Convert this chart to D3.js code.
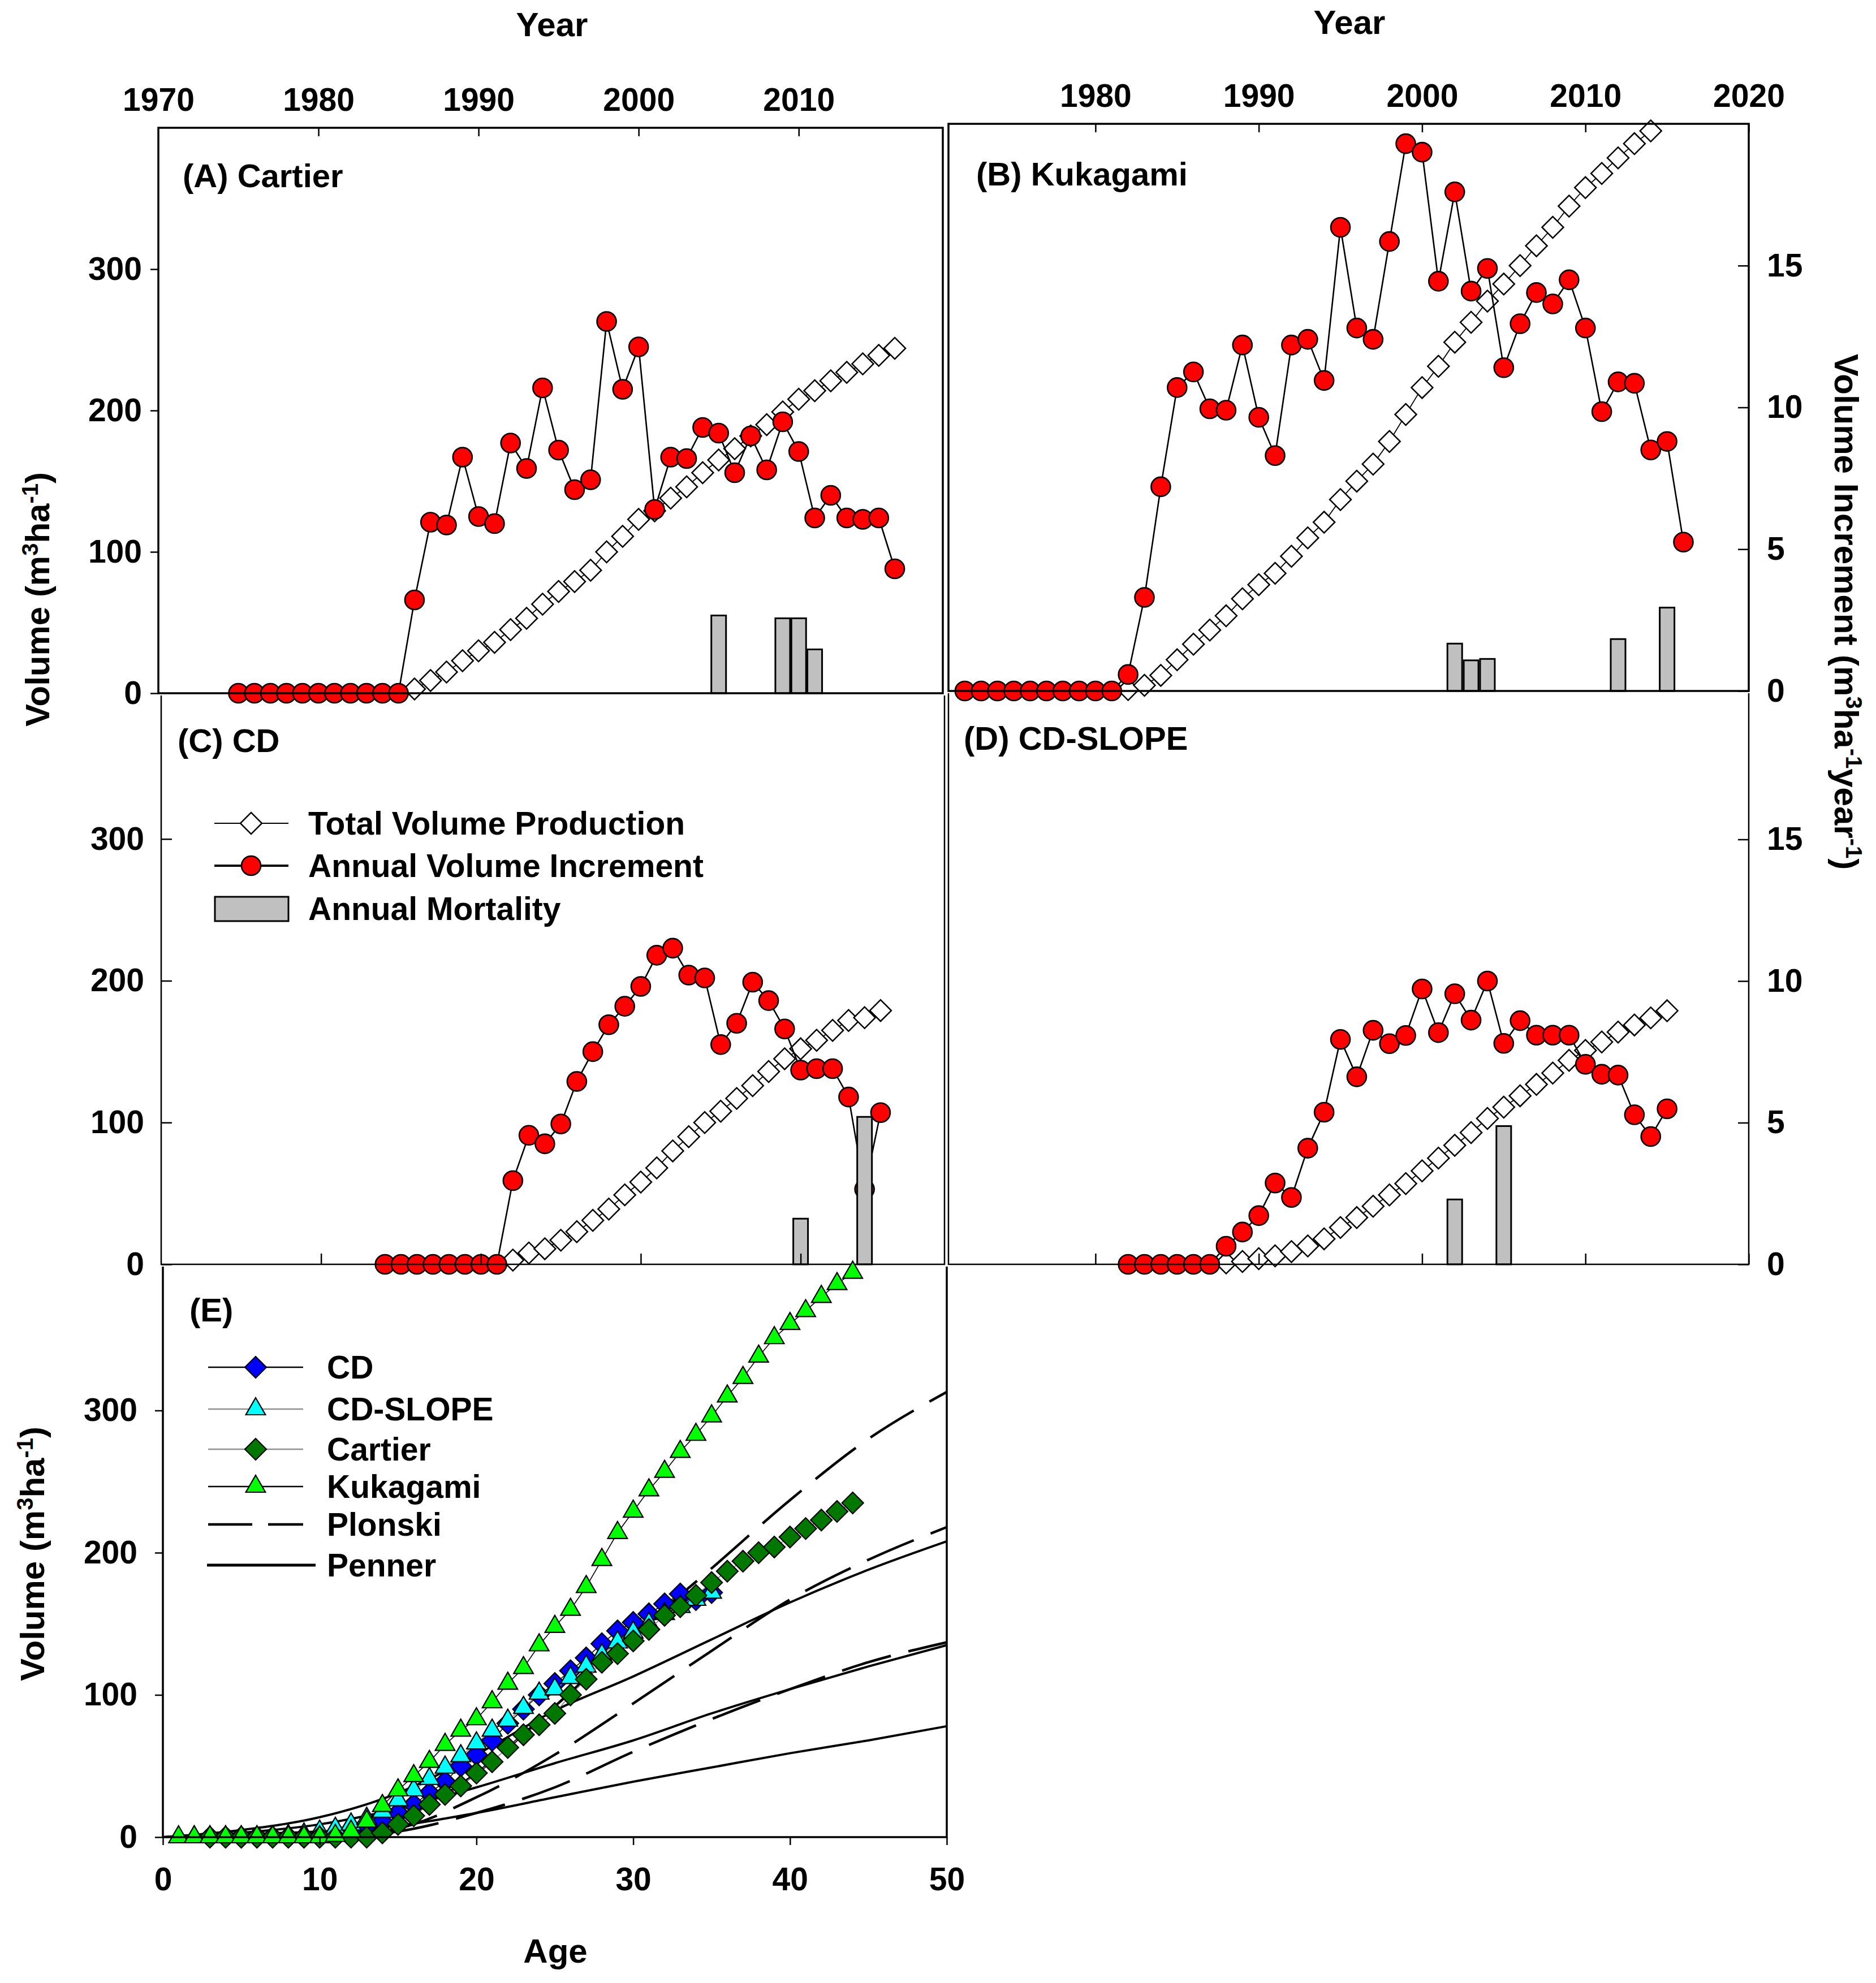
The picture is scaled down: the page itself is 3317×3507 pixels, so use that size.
<!DOCTYPE html>
<html>
<head>
<meta charset="utf-8">
<script src="https://cdn.jsdelivr.net/npm/d3@7/dist/d3.min.js"></script>
<style>
  body { margin: 0; background: #fff; }
  svg text { font-family: "Liberation Sans", Arial, sans-serif; font-weight: bold; }
</style>
</head>
<body>
<div id="chart"></div>
<script>
// ---- data ----
// annual volume increment (m3 ha-1 year-1), one value per year from the start year
const cartierIncStart = 1975;
const cartierInc = [0, 0, 0, 0, 0, 0, 0, 0, 0, 0, 0,
  3.3, 6.05, 5.95, 8.35, 6.25, 6.0, 8.85, 7.95, 10.8, 8.6, 7.2, 7.55, 13.15, 10.75, 12.25,
  6.5, 8.35, 8.3, 9.4, 9.2, 7.8, 9.1, 7.9, 9.6, 8.55, 6.2, 7.0, 6.2, 6.15, 6.2, 4.4];
// total volume production (m3 ha-1)
const cartierTotalStart = 1986;
const cartierTotal = [3, 9, 15, 23, 30, 36, 45, 53, 63, 72, 79, 87, 100, 111, 123, 129, 138,
  146, 156, 165, 173, 182, 190, 199, 208, 214, 221, 227, 233, 239, 244];
const cartierMortYears = [2005, 2009, 2010, 2011];
const cartierMort = [2.75, 2.65, 2.65, 1.55];

const kukagamiIncStart = 1972;
const kukagamiInc = [0, 0, 0, 0, 0, 0, 0, 0, 0, 0,
  0.58, 3.3, 7.2, 10.7, 11.25, 9.95, 9.9, 12.2, 9.65, 8.3, 12.2, 12.4, 10.95, 16.35, 12.8,
  12.4, 15.85, 19.3, 19.0, 14.45, 17.6, 14.1, 14.9, 11.4, 12.95, 14.05, 13.65, 14.5, 12.8,
  9.85, 10.9, 10.85, 8.5, 8.8, 5.25];
const kukagamiTotalStart = 1982;
const kukagamiTotal = [1, 4, 11, 22, 33, 43, 53, 65, 75, 83, 95, 108, 119, 135, 148, 160, 176,
  195, 214, 229, 246, 260, 275, 287, 300, 314, 327, 342, 355, 365, 376, 386, 395];
const kukagamiMortYears = [2002, 2003, 2004, 2012, 2015];
const kukagamiMort = [1.67, 1.08, 1.13, 1.83, 2.94];

const cdIncStart = 1984;
const cdInc = [0, 0, 0, 0, 0, 0, 0, 0,
  2.95, 4.55, 4.25, 4.95, 6.45, 7.5, 8.45, 9.1, 9.8, 10.9, 11.15, 10.2, 10.1, 7.75, 8.5,
  9.95, 9.3, 8.3, 6.85, 6.9, 6.9, 5.9, 2.65, 5.35];
const cdTotalStart = 1992;
const cdTotal = [3, 8, 11, 17, 23, 31, 39, 49, 58, 68, 80, 90, 100, 108, 117, 126, 136, 145,
  152, 158, 165, 172, 174, 179];
const cdMortYears = [2010, 2014];
const cdMort = [1.61, 5.2];

const slopeIncStart = 1982;
const slopeInc = [0, 0, 0, 0, 0, 0,
  0.64, 1.14, 1.72, 2.87, 2.36, 4.1, 5.37, 7.94, 6.62, 8.26, 7.79, 8.08, 9.72, 8.18, 9.55,
  8.62, 10.0, 7.8, 8.6, 8.09, 8.09, 8.09, 7.06, 6.71, 6.68, 5.28, 4.51, 5.49];
const slopeTotalStart = 1988;
const slopeTotal = [1, 2, 4, 6, 9, 13, 18, 26, 33, 41, 49, 57, 66, 75, 84, 93, 103, 111, 119,
  127, 135, 144, 151, 157, 164, 169, 174, 179];
const slopeMortYears = [2002, 2005];
const slopeMort = [2.29, 4.88];

// panel E: standing volume by stand age (m3 ha-1)
const cdAgeStart = 4;
const cdByAge = [0, 0, 0, 0, 0, 0, 0, 0,
  3, 8, 11, 17, 23, 31, 39, 50, 58, 68, 80, 90, 100, 108, 117, 126, 136, 145, 151, 157, 164,
  171, 167, 172];
const slopeAgeStart = 2;
const slopeByAge = [0, 0, 0, 0, 0, 0,
  1, 2, 4, 6, 9, 13, 18, 26, 33, 41, 49, 57, 66, 75, 82, 91, 101, 104, 112, 120, 128, 137,
  144, 150, 157, 162, 167, 172];
const cartierAgeStart = 3;
const cartierByAge = [0, 0, 0, 0, 0, 0, 0, 0, 0, 0, 0,
  3, 9, 15, 23, 30, 36, 45, 53, 63, 72, 79, 87, 100, 111, 123, 129, 138, 146, 156, 162, 170,
  179, 187, 194, 200, 204, 211, 217, 223, 229, 235];
const kukagamiAgeStart = 1;
const kukagamiByAge = [0, 0, 0, 0, 0, 0, 0, 0, 0, 0,
  1, 4, 11, 22, 33, 43, 53, 65, 75, 83, 95, 108, 119, 135, 148, 160, 176, 195, 214, 229, 244,
  257, 271, 283, 296, 310, 323, 338, 351, 361, 370, 380, 389, 397];

// yield-table curves
const plonskiAges = [10, 15, 20, 25, 30, 35, 40, 45, 50];
const plonskiI = [0, 12, 45, 92, 142, 189, 237, 280, 313];
const plonskiII = [0, 6, 28, 58, 94, 131, 167, 195, 218];
const plonskiIII = [0, 4, 17, 35, 60, 83, 104, 123, 137];
const pennerAges = [0, 5, 10, 15, 20, 25, 30, 35, 40, 45, 50];
const pennerI = [0, 5, 14, 31, 58, 89, 113, 139, 165, 188, 208];
const pennerII = [0, 3, 9, 20, 35, 52, 68, 87, 104, 120, 135];
const pennerIII = [0, 2, 4, 8, 17, 28, 39, 49, 59, 68, 78];

const leftTicks = [0, 100, 200, 300];
const rightTicks = [0, 5, 10, 15];
const ageTicks = [0, 10, 20, 30, 40, 50];

// ---- drawing ----
const W = 3317, H = 3507;
const FS = 57;
const svg = d3.select('#chart').append('svg')
  .attr('width', W).attr('height', H)
  .style('background', '#fff');

const toPoints = (start, values) => values.map((v, i) => ({ x: start + i, v: v }));
const diamondPath = d3.symbol(d3.symbolSquare, 720)();
const trianglePath = d3.symbol(d3.symbolTriangle, 520)();

function styleAxis(g, width) {
  g.select('.domain').remove();
  g.selectAll('.tick line').attr('stroke', '#000').attr('stroke-width', width || 2.5);
  g.selectAll('.tick text').attr('fill', '#000');
  g.attr('font-size', FS).attr('font-family', '"Liberation Sans", Arial, sans-serif');
}

function drawYearPanel(p) {
  const x = d3.scaleLinear().domain(p.years).range([p.left, p.right]);
  const yR = d3.scaleLinear().domain([0, 20]).range([p.bottom, p.top]);
  const yL = d3.scaleLinear().domain([0, 400]).range([p.bottom, p.top]);
  const g = svg.append('g');

  // total volume production
  const total = toPoints(p.totalStart, p.total);
  g.append('path').datum(total)
    .attr('d', d3.line().x(d => x(d.x)).y(d => yL(d.v)))
    .attr('fill', 'none').attr('stroke', '#000').attr('stroke-width', 1.8);
  g.selectAll('.tot').data(total).join('path')
    .attr('d', diamondPath)
    .attr('transform', d => `translate(${x(d.x)},${yL(d.v)}) rotate(45)`)
    .attr('fill', '#fff').attr('stroke', '#000').attr('stroke-width', 2.5);

  // annual increment
  const inc = toPoints(p.incStart, p.inc);
  g.append('path').datum(inc)
    .attr('d', d3.line().x(d => x(d.x)).y(d => yR(d.v)))
    .attr('fill', 'none').attr('stroke', '#000').attr('stroke-width', 2.6);
  g.selectAll('.inc').data(inc).join('circle')
    .attr('cx', d => x(d.x)).attr('cy', d => yR(d.v)).attr('r', 17)
    .attr('fill', '#ff0000').attr('stroke', '#000').attr('stroke-width', 2.6);

  // annual mortality bars
  const bw = 26;
  g.selectAll('.bar').data(p.mortYears.map((yr, i) => ({ x: yr, v: p.mort[i] }))).join('rect')
    .attr('x', d => x(d.x) - bw / 2).attr('y', d => yR(d.v))
    .attr('width', bw).attr('height', d => yR(0) - yR(d.v))
    .attr('fill', '#c0c0c0').attr('stroke', '#000').attr('stroke-width', 3);

  // frame
  const fw = p.frameWidth;
  if (p.box) {
    svg.append('rect').attr('x', p.left).attr('y', p.top)
      .attr('width', p.right - p.left).attr('height', p.bottom - p.top)
      .attr('fill', 'none').attr('stroke', '#000').attr('stroke-width', fw);
  } else {
    svg.append('path')
      .attr('d', `M${p.left},${p.frameTop}V${p.bottom}H${p.right}V${p.frameTop}`)
      .attr('fill', 'none').attr('stroke', '#000').attr('stroke-width', fw);
  }

  const decades = d3.range(Math.ceil(p.years[0] / 10) * 10, p.years[1] + 1, 10)
    .filter(v => v > p.years[0]);
  if (p.topAxis) {
    svg.append('g').attr('transform', `translate(0,${p.top})`)
      .call(d3.axisTop(x).tickValues(p.topLabels).tickFormat(d3.format('d'))
        .tickSizeInner(-15).tickSizeOuter(0).tickPadding(30))
      .call(s => styleAxis(s))
      .call(s => s.selectAll('.tick line').filter(d => !decades.includes(d)).remove());
  }
  if (p.bottomTicks) {
    svg.append('g').attr('transform', `translate(0,${p.bottom})`)
      .call(d3.axisBottom(x).tickValues(decades).tickFormat('')
        .tickSizeInner(-19).tickSizeOuter(0))
      .call(s => styleAxis(s));
  }
  if (p.leftAxis) {
    const inside = p.leftAxis === 'in';
    svg.append('g').attr('transform', `translate(${p.left},0)`)
      .call(d3.axisLeft(yL).tickValues(leftTicks)
        .tickSizeInner(inside ? -19 : 14).tickSizeOuter(0).tickPadding(inside ? 30 : 15))
      .call(s => styleAxis(s));
  }
  if (p.rightAxis) {
    svg.append('g').attr('transform', `translate(${p.right},0)`)
      .call(d3.axisRight(yR).tickValues(rightTicks)
        .tickSizeInner(-19).tickSizeOuter(0).tickPadding(32))
      .call(s => styleAxis(s));
  }

  svg.append('text').attr('x', p.labelX).attr('y', p.labelY)
    .attr('font-size', 58).text(p.label);
}

drawYearPanel({
  label: '(A) Cartier', labelX: 323, labelY: 331,
  years: [1970, 2019], left: 280, right: 1667, top: 226, bottom: 1226,
  box: true, frameWidth: 3.5, topAxis: true, topLabels: [1970, 1980, 1990, 2000, 2010],
  leftAxis: 'out',
  incStart: cartierIncStart, inc: cartierInc,
  totalStart: cartierTotalStart, total: cartierTotal,
  mortYears: cartierMortYears, mort: cartierMort
});
drawYearPanel({
  label: '(B) Kukagami', labelX: 1726, labelY: 328,
  years: [1971, 2020], left: 1677, right: 3092, top: 219, bottom: 1222,
  box: true, frameWidth: 3.5, topAxis: true, topLabels: [1980, 1990, 2000, 2010, 2020],
  rightAxis: true,
  incStart: kukagamiIncStart, inc: kukagamiInc,
  totalStart: kukagamiTotalStart, total: kukagamiTotal,
  mortYears: kukagamiMortYears, mort: kukagamiMort
});
drawYearPanel({
  label: '(C) CD', labelX: 314, labelY: 1330,
  years: [1970, 2019], left: 285, right: 1670, top: 1233, bottom: 2236, frameTop: 1230,
  frameWidth: 2.5, bottomTicks: true, leftAxis: 'in',
  incStart: cdIncStart, inc: cdInc,
  totalStart: cdTotalStart, total: cdTotal,
  mortYears: cdMortYears, mort: cdMort
});
drawYearPanel({
  label: '(D) CD-SLOPE', labelX: 1704, labelY: 1326,
  years: [1971, 2020], left: 1677, right: 3092, top: 1234, bottom: 2236, frameTop: 1226,
  frameWidth: 2.5, bottomTicks: true, rightAxis: true,
  incStart: slopeIncStart, inc: slopeInc,
  totalStart: slopeTotalStart, total: slopeTotal,
  mortYears: slopeMortYears, mort: slopeMort
});

// ---- panel E ----
const ex = d3.scaleLinear().domain([0, 50]).range([288, 1674]);
const ey = d3.scaleLinear().domain([0, 400]).range([3249, 2243]);
const eg = svg.append('g');

const curve = (ages, vals) => d3.line().curve(d3.curveMonotoneX)
  .x((d, i) => ex(ages[i])).y(d => ey(d))(vals);
[plonskiI, plonskiII, plonskiIII].forEach(vals => {
  eg.append('path').attr('d', curve(plonskiAges, vals))
    .attr('fill', 'none').attr('stroke', '#000').attr('stroke-width', 4.5)
    .attr('stroke-dasharray', '90,32');
});
[pennerI, pennerII, pennerIII].forEach(vals => {
  eg.append('path').attr('d', curve(pennerAges, vals))
    .attr('fill', 'none').attr('stroke', '#000').attr('stroke-width', 4);
});

const eSeries = [
  { start: cdAgeStart, vals: cdByAge, fill: '#0000ff', line: '#000', shape: 'diamond' },
  { start: slopeAgeStart, vals: slopeByAge, fill: '#00ffff', line: '#808080', shape: 'triangle' },
  { start: cartierAgeStart, vals: cartierByAge, fill: '#007800', line: '#808080', shape: 'diamond' },
  { start: kukagamiAgeStart, vals: kukagamiByAge, fill: '#00ff00', line: '#000', shape: 'triangle' }
];
eSeries.forEach(s => {
  const pts = toPoints(s.start, s.vals);
  eg.append('path').datum(pts)
    .attr('d', d3.line().x(d => ex(d.x)).y(d => ey(d.v)))
    .attr('fill', 'none').attr('stroke', s.line).attr('stroke-width', 1.6);
  eg.selectAll(null).data(pts).join('path')
    .attr('d', s.shape === 'diamond' ? diamondPath : trianglePath)
    .attr('transform', d => `translate(${ex(d.x)},${ey(d.v)})` + (s.shape === 'diamond' ? ' rotate(45)' : ''))
    .attr('fill', s.fill).attr('stroke', '#000').attr('stroke-width', 2.2);
});

svg.append('path').attr('d', `M288,2240V3249H1674V2240`)
  .attr('fill', 'none').attr('stroke', '#000').attr('stroke-width', 3.5);
svg.append('g').attr('transform', 'translate(288,0)')
  .call(d3.axisLeft(ey).tickValues(leftTicks).tickSizeInner(14).tickSizeOuter(0).tickPadding(31))
  .call(s => styleAxis(s));
svg.append('g').attr('transform', 'translate(0,3249)')
  .call(d3.axisBottom(ex).tickValues(ageTicks).tickSizeInner(14).tickSizeOuter(0).tickPadding(40))
  .call(s => styleAxis(s));
svg.append('text').attr('x', 335).attr('y', 2337).attr('font-size', 58).text('(E)');

// ---- legends ----
const lg = svg.append('g').attr('font-size', FS);
const cLegend = [
  { y: 1456, label: 'Total Volume Production' },
  { y: 1531, label: 'Annual Volume Increment' },
  { y: 1607, label: 'Annual Mortality' }
];
lg.append('line').attr('x1', 379).attr('x2', 510).attr('y1', cLegend[0].y).attr('y2', cLegend[0].y)
  .attr('stroke', '#000').attr('stroke-width', 1.8);
lg.append('path').attr('d', diamondPath)
  .attr('transform', `translate(444,${cLegend[0].y}) rotate(45)`)
  .attr('fill', '#fff').attr('stroke', '#000').attr('stroke-width', 2.5);
lg.append('line').attr('x1', 379).attr('x2', 510).attr('y1', cLegend[1].y).attr('y2', cLegend[1].y)
  .attr('stroke', '#000').attr('stroke-width', 4);
lg.append('circle').attr('cx', 444).attr('cy', cLegend[1].y).attr('r', 17)
  .attr('fill', '#ff0000').attr('stroke', '#000').attr('stroke-width', 2.6);
lg.append('rect').attr('x', 380).attr('y', cLegend[2].y - 21).attr('width', 130).attr('height', 43)
  .attr('fill', '#c0c0c0').attr('stroke', '#000').attr('stroke-width', 3);
cLegend.forEach(d => lg.append('text').attr('x', 545).attr('y', d.y + 20).text(d.label));

const eLegend = [
  { y: 2418, label: 'CD', s: eSeries[0] },
  { y: 2492, label: 'CD-SLOPE', s: eSeries[1] },
  { y: 2563, label: 'Cartier', s: eSeries[2] },
  { y: 2629, label: 'Kukagami', s: eSeries[3] },
  { y: 2696, label: 'Plonski', dash: true },
  { y: 2768, label: 'Penner', solid: true }
];
eLegend.forEach(d => {
  if (d.s) {
    lg.append('line').attr('x1', 368).attr('x2', 536).attr('y1', d.y).attr('y2', d.y)
      .attr('stroke', d.s.line === '#000' ? '#000' : '#909090').attr('stroke-width', 2.5);
    lg.append('path').attr('d', d.s.shape === 'diamond' ? diamondPath : trianglePath)
      .attr('transform', `translate(452,${d.y})` + (d.s.shape === 'diamond' ? ' rotate(45)' : ''))
      .attr('fill', d.s.fill).attr('stroke', '#000').attr('stroke-width', 2.2);
  } else if (d.dash) {
    lg.append('line').attr('x1', 368).attr('x2', 536).attr('y1', d.y).attr('y2', d.y)
      .attr('stroke', '#000').attr('stroke-width', 4.5).attr('stroke-dasharray', '78,28');
  } else {
    lg.append('line').attr('x1', 366).attr('x2', 558).attr('y1', d.y).attr('y2', d.y)
      .attr('stroke', '#000').attr('stroke-width', 5);
  }
  lg.append('text').attr('x', 578).attr('y', d.y + 20).text(d.label);
});

// ---- axis titles ----
function volumeTitle(g, parts) {
  parts.forEach(p => {
    const t = g.append('tspan').text(p.t);
    if (p.sup) t.attr('font-size', 40).attr('dy', -20);
    if (p.down) t.attr('dy', 20);
  });
}
const t1 = svg.append('text').attr('font-size', 60).attr('text-anchor', 'middle')
  .attr('transform', 'translate(87,1060) rotate(-90)');
volumeTitle(t1, [{ t: 'Volume (m' }, { t: '3', sup: true }, { t: 'ha', down: true },
  { t: '-1', sup: true }, { t: ')', down: true }]);
const t2 = svg.append('text').attr('font-size', 60).attr('text-anchor', 'middle')
  .attr('transform', 'translate(78,2748) rotate(-90)');
volumeTitle(t2, [{ t: 'Volume (m' }, { t: '3', sup: true }, { t: 'ha', down: true },
  { t: '-1', sup: true }, { t: ')', down: true }]);
const t3 = svg.append('text').attr('font-size', 60).attr('text-anchor', 'middle')
  .attr('transform', 'translate(3244,1082) rotate(90)');
volumeTitle(t3, [{ t: 'Volume Increment (m' }, { t: '3', sup: true }, { t: 'ha', down: true },
  { t: '-1', sup: true }, { t: 'year', down: true }, { t: '-1', sup: true }, { t: ')', down: true }]);

svg.append('text').attr('x', 976).attr('y', 64).attr('font-size', 60)
  .attr('text-anchor', 'middle').text('Year');
svg.append('text').attr('x', 2386).attr('y', 60).attr('font-size', 60)
  .attr('text-anchor', 'middle').text('Year');
svg.append('text').attr('x', 982).attr('y', 3471).attr('font-size', 60)
  .attr('text-anchor', 'middle').text('Age');
</script>
</body>
</html>
